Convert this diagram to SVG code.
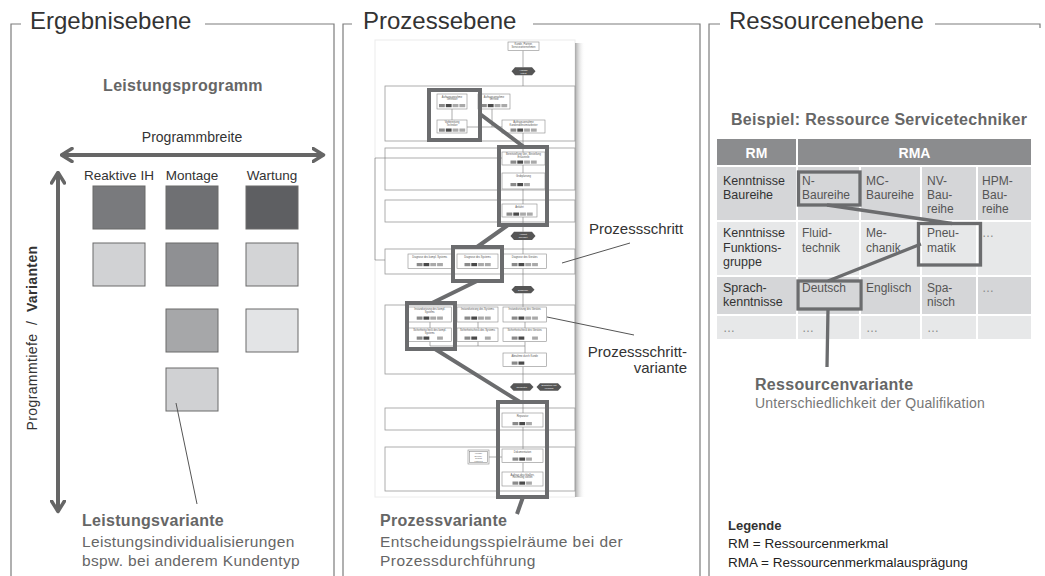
<svg xmlns="http://www.w3.org/2000/svg" width="1045" height="576" viewBox="0 0 1045 576">
<defs>
<style>
text{font-family:"Liberation Sans",Arial,Helvetica,sans-serif}
.frame{fill:none;stroke:#7c7c7c;stroke-width:1.2}
.title{font-size:24px;fill:#333}
.sub{font-size:15.5px;fill:#666;letter-spacing:0.35px}
.head{font-size:16px;font-weight:bold;fill:#666;letter-spacing:0.3px}
.lbl{font-size:13.5px;fill:#333;text-anchor:middle}
.axis{stroke:#666;stroke-width:4;fill:none}
.sq{stroke:#6a6a6a;stroke-width:1}
.lead{stroke:#555;stroke-width:1;fill:none}
.hl{fill:none;stroke:#6b6c6e;stroke-width:4}
.hlc{stroke:#6b6c6e;stroke-width:4;fill:none}
.lane{fill:none;stroke:#9a9a9a;stroke-width:0.8}
.pb{fill:#fff;stroke:#8a8a8a;stroke-width:0.6}
.flow{stroke:#777;stroke-width:0.6;fill:none}
.tiny{font-size:2.6px;fill:#555;text-anchor:middle}
.evt{font-size:2.4px;fill:#fff;text-anchor:middle}
.ev{fill:#555}
.c1{fill:#8a8a8a}.c2{fill:#4a4a4a}.c3{fill:#a9a9a9}
.cell{font-size:12px;fill:#555}
.rm{font-size:12.5px;fill:#333}
.dots{font-size:12px;fill:#888}
.th{font-size:14px;font-weight:bold;fill:#fff;text-anchor:middle}
.rhl{fill:none;stroke:#6b6c6e;stroke-width:3.3}
.rhc{stroke:#6b6c6e;stroke-width:3.3;fill:none}
.sep{stroke:#fff;stroke-width:2}
.leg{font-size:13.5px;fill:#222}
</style>
<marker id="chev" viewBox="0 0 14 16" refX="12" refY="8" markerWidth="14" markerHeight="16" markerUnits="userSpaceOnUse" orient="auto-start-reverse">
<path d="M1.5,1.5 L12,8 L1.5,14.5" fill="none" stroke="#666" stroke-width="3.5" stroke-linecap="round" stroke-linejoin="round"/>
</marker>
<linearGradient id="shadow" x1="0" x2="1" y1="0" y2="0"><stop offset="0" stop-color="#a8a8a8"/><stop offset="1" stop-color="#ffffff" stop-opacity="0"/></linearGradient>
<g id="ch4"><rect class="c1" x="0" y="0" width="5.8" height="3.2"/><rect class="c2" x="6.8" y="0" width="5.8" height="3.2"/><rect class="c3" x="13.6" y="0" width="5.8" height="3.2"/><rect class="c3" x="20.4" y="0" width="5.8" height="3.2"/></g>
<g id="ch3"><rect class="c1" x="0" y="0" width="5.8" height="3.2"/><rect class="c2" x="6.8" y="0" width="5.8" height="3.2"/><rect class="c3" x="13.6" y="0" width="5.8" height="3.2"/></g>
<g id="ch2x"><rect class="c1" x="0" y="0" width="5.8" height="3.2"/><rect class="c2" x="6.8" y="0" width="5.8" height="3.2"/><rect class="c3" x="20.4" y="0" width="5.8" height="3.2"/></g>
<g id="ch2"><rect class="c1" x="0" y="0" width="5.8" height="3.2"/><rect class="c2" x="6.8" y="0" width="5.8" height="3.2"/></g>
</defs>
<rect width="1045" height="576" fill="#fff"/>

<!-- Panel frames -->
<g id="frames">
<path class="frame" d="M11,576 V24 H21 M205,24 H334 V576"/>
<path class="frame" d="M343,576 V24 H352 M533,24 H700 V576"/>
<path class="frame" d="M709,576 V24 H720 M935,24 H1040 V28"/>
<text class="title" x="30" y="29">Ergebnisebene</text>
<text class="title" x="363" y="29">Prozessebene</text>
<text class="title" x="729" y="29">Ressourcenebene</text>
</g>

<!-- Left panel: Ergebnisebene -->
<g id="leistungsprogramm">
<text class="head" x="183" y="91" text-anchor="middle">Leistungsprogramm</text>
<text x="192" y="142" font-size="14" fill="#333" text-anchor="middle">Programmbreite</text>
<path class="axis" d="M61.5,155 H323.5" marker-start="url(#chev)" marker-end="url(#chev)"/>
<path class="axis" d="M58,172.5 V511.5" marker-start="url(#chev)" marker-end="url(#chev)"/>
<text transform="translate(37,338) rotate(-90)" text-anchor="middle" font-size="14" fill="#333" letter-spacing="0.4">Programmtiefe&#160; /&#160; <tspan font-weight="bold">Varianten</tspan></text>
<text class="lbl" x="119" y="180">Reaktive IH</text>
<text class="lbl" x="192" y="180">Montage</text>
<text class="lbl" x="272" y="180">Wartung</text>
</g>
<g id="leistungen">
<rect class="sq" x="93" y="186" width="52" height="43" fill="#797a7d"/>
<rect class="sq" x="166" y="186" width="52" height="43" fill="#6f7073"/>
<rect class="sq" x="246" y="186" width="52" height="43" fill="#5e5f62"/>
<rect class="sq" x="93" y="243" width="52" height="43" fill="#d1d2d4"/>
<rect class="sq" x="166" y="243" width="52" height="43" fill="#8f9093"/>
<rect class="sq" x="246" y="243" width="52" height="43" fill="#d3d4d6"/>
<rect class="sq" x="166" y="309" width="52" height="43" fill="#a6a7a9"/>
<rect class="sq" x="246" y="309" width="52" height="43" fill="#e3e4e6"/>
<rect class="sq" x="166" y="368" width="52" height="43" fill="#d0d1d3"/>
</g>
<g id="leistungsvariante">
<line class="lead" x1="176" y1="403" x2="197" y2="504"/>
<text class="head" x="82" y="526">Leistungsvariante</text>
<text class="sub" x="82" y="547">Leistungsindividualisierungen</text>
<text class="sub" x="82" y="566">bspw. bei anderem Kundentyp</text>
</g>

<!-- Middle panel: Prozessebene -->
<g id="prozessmodell">
<rect x="375" y="40" width="200" height="457" fill="#fff" stroke="#ececec" stroke-width="1"/>
<rect x="575" y="43" width="10" height="454" fill="url(#shadow)"/>
<g id="lanes">
<rect class="lane" x="385" y="86" width="190" height="55"/>
<rect class="lane" x="385" y="148" width="190" height="42"/>
<rect class="lane" x="385" y="200" width="190" height="22"/>
<rect class="lane" x="385" y="249" width="190" height="25"/>
<rect class="lane" x="385" y="305" width="190" height="69"/>
<rect class="lane" x="385" y="408" width="190" height="22"/>
<rect class="lane" x="385" y="447" width="190" height="44"/>
</g>
<g id="flows">
<path class="flow" d="M523,50.5 V67.3 M523,75.3 V86 M452,109 V120 M492,109 V127 H467 M502,127 H492 M523,133 V152 M523,165 V173 M523,189 V204 M523,217 V231.7 M523,240 V254 M523,268.5 V286 M523,293.3 V307 M430,322 V328 M478,322 V328 M525,322 V328 M430,341.5 V346 H525 M478,341.5 V346 M525,341.5 V353 M523,366.5 V383.3 M523,390.7 V413 M523,427 V449 M523,462.5 V472 M489,457 H502 M385,260 H375 V158 H502"/>
</g>
<g id="pboxes">
<rect class="pb" x="508" y="42" width="31" height="8.5"/>
<text class="tiny" x="523.5" y="45.3">Kunde, Partner,</text><text class="tiny" x="523.5" y="48.3">Serviceunternehmen</text>
<rect class="pb" x="437" y="94" width="30" height="15"/>
<text class="tiny" x="452" y="97.5">Auftragsannahme</text><text class="tiny" x="452" y="100.3">Techniker</text><use href="#ch4" x="439" y="104"/>
<rect class="pb" x="478" y="94" width="32" height="15"/>
<text class="tiny" x="494" y="97.5">Auftragsannahme</text><text class="tiny" x="494" y="100.3">Vertrieb</text><use href="#ch4" x="481" y="104"/>
<rect class="pb" x="437" y="120" width="30" height="13"/>
<text class="tiny" x="452" y="123">Vorbereitung</text><text class="tiny" x="452" y="125.8">Techniker</text><use href="#ch4" x="439" y="128.5"/>
<rect class="pb" x="502" y="120" width="43" height="13"/>
<text class="tiny" x="523.5" y="123">Auftragsannahme</text><text class="tiny" x="523.5" y="125.8">Kundendienstmitarbeiter</text><use href="#ch4" x="510.5" y="128.5"/>
<rect class="pb" x="502" y="152" width="43" height="13"/>
<text class="tiny" x="523.5" y="155">Bereitstellung Ger., Bestellung</text><text class="tiny" x="523.5" y="157.8">Ersatzteile</text><use href="#ch4" x="510.5" y="160.5"/>
<rect class="pb" x="502" y="173" width="43" height="16"/>
<text class="tiny" x="523.5" y="177">Grobplanung</text><use href="#ch3" x="510.5" y="183"/>
<rect class="pb" x="502" y="204" width="35" height="13"/>
<text class="tiny" x="519.5" y="207.5">Anfahrt</text><use href="#ch4" x="506.5" y="212.5"/>
<rect class="pb" x="408" y="254" width="43.5" height="14.5"/>
<text class="tiny" x="429.7" y="257.5">Diagnose des kompl. Systems</text><use href="#ch4" x="416.7" y="263"/>
<rect class="pb" x="457" y="254" width="41" height="14.5"/>
<text class="tiny" x="477.5" y="257.5">Diagnose des Systems</text><use href="#ch4" x="464.5" y="263"/>
<rect class="pb" x="503" y="254" width="43.5" height="14.5"/>
<text class="tiny" x="524.7" y="257.5">Diagnose des Gerätes</text><use href="#ch4" x="511.7" y="263"/>
<rect class="pb" x="408" y="307" width="43.5" height="15"/>
<text class="tiny" x="429.7" y="310">Instandsetzung des kompl.</text><text class="tiny" x="429.7" y="312.8">Systems</text><use href="#ch4" x="416.7" y="316.5"/>
<rect class="pb" x="457" y="307" width="41" height="15"/>
<text class="tiny" x="477.5" y="310">Instandsetzung des Systems</text><use href="#ch4" x="464.5" y="316.5"/>
<rect class="pb" x="503" y="307" width="43.5" height="15"/>
<text class="tiny" x="524.7" y="310">Instandsetzung des Gerätes</text><use href="#ch4" x="511.7" y="316.5"/>
<rect class="pb" x="408" y="328" width="43.5" height="13.5"/>
<text class="tiny" x="429.7" y="331">Sicherheitscheck des kompl.</text><text class="tiny" x="429.7" y="333.8">Systems</text><use href="#ch2x" x="416.7" y="336.5"/>
<rect class="pb" x="457" y="328" width="41" height="13.5"/>
<text class="tiny" x="477.5" y="331">Sicherheitscheck des Systems</text><use href="#ch2x" x="464.5" y="336.5"/>
<rect class="pb" x="503" y="328" width="43.5" height="13.5"/>
<text class="tiny" x="524.7" y="331">Sicherheitscheck des Gerätes</text><use href="#ch2x" x="511.7" y="336.5"/>
<rect class="pb" x="503" y="353" width="43.5" height="13.5"/>
<text class="tiny" x="524.7" y="356.5">Abnahme durch Kunde</text><use href="#ch2" x="511.7" y="361.5"/>
<rect class="pb" x="502" y="413" width="41" height="14"/>
<text class="tiny" x="522.5" y="417">Reparatur</text><use href="#ch3" x="512.5" y="422"/>
<rect class="pb" x="502" y="449" width="41" height="13.5"/>
<text class="tiny" x="522.5" y="453">Dokumentation</text><use href="#ch3" x="512.5" y="457.5"/>
<rect class="pb" x="502" y="472" width="41" height="14"/>
<text class="tiny" x="522.5" y="475.5">Auftrag abschließen,</text><text class="tiny" x="522.5" y="478.3">Rechnung stellen</text><use href="#ch3" x="512.5" y="481.5"/>
<rect class="pb" x="468" y="450" width="21" height="14"/>
<rect class="pb" x="469.5" y="451.5" width="18" height="11"/>
<text class="tiny" x="478.5" y="454.3" style="font-size:2.2px">Vorlage</text><text class="tiny" x="478.5" y="456.8" style="font-size:2.2px">Service-</text><text class="tiny" x="478.5" y="459.3" style="font-size:2.2px">bericht</text><text class="tiny" x="478.5" y="461.8" style="font-size:2.2px">erstellen</text>
</g>
<g id="events">
<polygon class="ev" points="511.5,71.3 515,67.3 532,67.3 535.5,71.3 532,75.3 515,75.3"/>
<text class="evt" x="523.5" y="70.8">Anfrage</text><text class="evt" x="523.5" y="73.5">erteilt</text>
<polygon class="ev" points="510.5,236 514,231.7 532,231.7 535.5,236 532,240 514,240"/>
<text class="evt" x="523" y="235.2">Anfahrt</text><text class="evt" x="523" y="238">beendet</text>
<polygon class="ev" points="511.5,289.7 515,286 531,286 534.5,289.7 531,293.3 515,293.3"/>
<text class="evt" x="523" y="290.6">Diagnose</text>
<polygon class="ev" points="510,387 513.5,383.3 530,383.3 533.5,387 530,390.7 513.5,390.7"/>
<text class="evt" x="521.7" y="387.9">Reparatur</text>
<polygon class="ev" points="536.5,387 540,383.3 558,383.3 561.5,387 558,390.7 540,390.7"/>
<text class="evt" x="549" y="386.3">Ersatzteile mit</text><text class="evt" x="549" y="389.1">Versand</text>
</g>
<g id="prozessvarianten">
<rect class="hl" x="429" y="90" width="51" height="50"/>
<rect class="hl" x="499" y="147" width="48" height="78"/>
<rect class="hl" x="453" y="247" width="49" height="34"/>
<rect class="hl" x="407" y="303" width="48" height="46"/>
<rect class="hl" x="498" y="402" width="49" height="95"/>
<path class="hlc" d="M480,114 L524,147 M508,225 L477,247 M477,281 L432,303 M435,349 L520,402 M523,497 L517,514"/>
</g>
</g>
<g id="prozessschritt">
<text x="589" y="234" font-size="15" fill="#333">Prozessschritt</text>
<line class="lead" x1="630" y1="243" x2="562" y2="263"/>
</g>
<g id="prozessschrittvariante">
<text x="687" y="357" font-size="15" fill="#333" text-anchor="end">Prozessschritt-</text>
<text x="687" y="373" font-size="15" fill="#333" text-anchor="end">variante</text>
<line class="lead" x1="547" y1="317" x2="634" y2="335"/>
</g>
<g id="prozessvariante">
<text class="head" x="380" y="526">Prozessvariante</text>
<text class="sub" x="380" y="547" style="letter-spacing:0.45px">Entscheidungsspielräume bei der</text>
<text class="sub" x="380" y="566" style="letter-spacing:0.45px">Prozessdurchführung</text>
</g>

<!-- Right panel: Ressourcenebene -->
<g id="ressourcentabelle">
<text class="head" x="731" y="125">Beispiel: Ressource Servicetechniker</text>
<rect x="717" y="139" width="79" height="26" fill="#8b8c8e"/>
<rect x="798" y="139" width="233" height="26" fill="#8b8c8e"/>
<text class="th" x="756.5" y="158">RM</text>
<text class="th" x="914.5" y="158">RMA</text>
<rect x="717" y="167" width="314" height="53" fill="#d5d6d8"/>
<rect x="717" y="222" width="314" height="53" fill="#e7e8e9"/>
<rect x="717" y="277" width="314" height="37" fill="#d5d6d8"/>
<rect x="717" y="316" width="314" height="23" fill="#e7e8e9"/>
<path class="sep" d="M797,167 V339 M860,167 V339 M921,167 V339 M977,167 V339"/>
<text class="rm" x="723" y="185">Kenntnisse</text><text class="rm" x="723" y="199">Baureihe</text>
<text class="cell" x="802" y="185">N-</text><text class="cell" x="802" y="199">Baureihe</text>
<text class="cell" x="866" y="185">MC-</text><text class="cell" x="866" y="199">Baureihe</text>
<text class="cell" x="927" y="185">NV-</text><text class="cell" x="927" y="199">Bau-</text><text class="cell" x="927" y="213">reihe</text>
<text class="cell" x="982" y="185">HPM-</text><text class="cell" x="982" y="199">Bau-</text><text class="cell" x="982" y="213">reihe</text>
<text class="rm" x="723" y="237">Kenntnisse</text><text class="rm" x="723" y="251.5">Funktions-</text><text class="rm" x="723" y="266">gruppe</text>
<text class="cell" x="802" y="237">Fluid-</text><text class="cell" x="802" y="251.5">technik</text>
<text class="cell" x="866" y="237">Me-</text><text class="cell" x="866" y="251.5">chanik</text>
<text class="cell" x="927" y="237">Pneu-</text><text class="cell" x="927" y="251.5">matik</text>
<text class="dots" x="982" y="237">…</text>
<text class="rm" x="723" y="292">Sprach-</text><text class="rm" x="723" y="306">kenntnisse</text>
<text class="cell" x="802" y="292">Deutsch</text>
<text class="cell" x="866" y="292">Englisch</text>
<text class="cell" x="927" y="292">Spa-</text><text class="cell" x="927" y="306">nisch</text>
<text class="dots" x="982" y="292">…</text>
<text class="dots" x="723" y="332">…</text>
<text class="dots" x="802" y="332">…</text>
<text class="dots" x="866" y="332">…</text>
<text class="dots" x="927" y="332">…</text>
</g>
<g id="ressourcenvariante">
<rect class="rhl" x="798.5" y="172" width="61.5" height="33"/>
<rect class="rhl" x="918.5" y="223.5" width="62" height="41.5"/>
<rect class="rhl" x="798" y="281" width="63" height="28"/>
<path class="rhc" d="M827,205 L952,223.5 M921,244 L828,281 M828,309 L827,367"/>
<text class="head" x="755" y="390">Ressourcenvariante</text>
<text x="755" y="408" font-size="14" fill="#777" letter-spacing="0.2">Unterschiedlichkeit der Qualifikation</text>
</g>
<g id="legende">
<text x="728" y="530" font-size="13" font-weight="bold" fill="#333">Legende</text>
<text class="leg" x="728" y="548">RM = Ressourcenmerkmal</text>
<text class="leg" x="728" y="567">RMA = Ressourcenmerkmalausprägung</text>
</g>
</svg>
